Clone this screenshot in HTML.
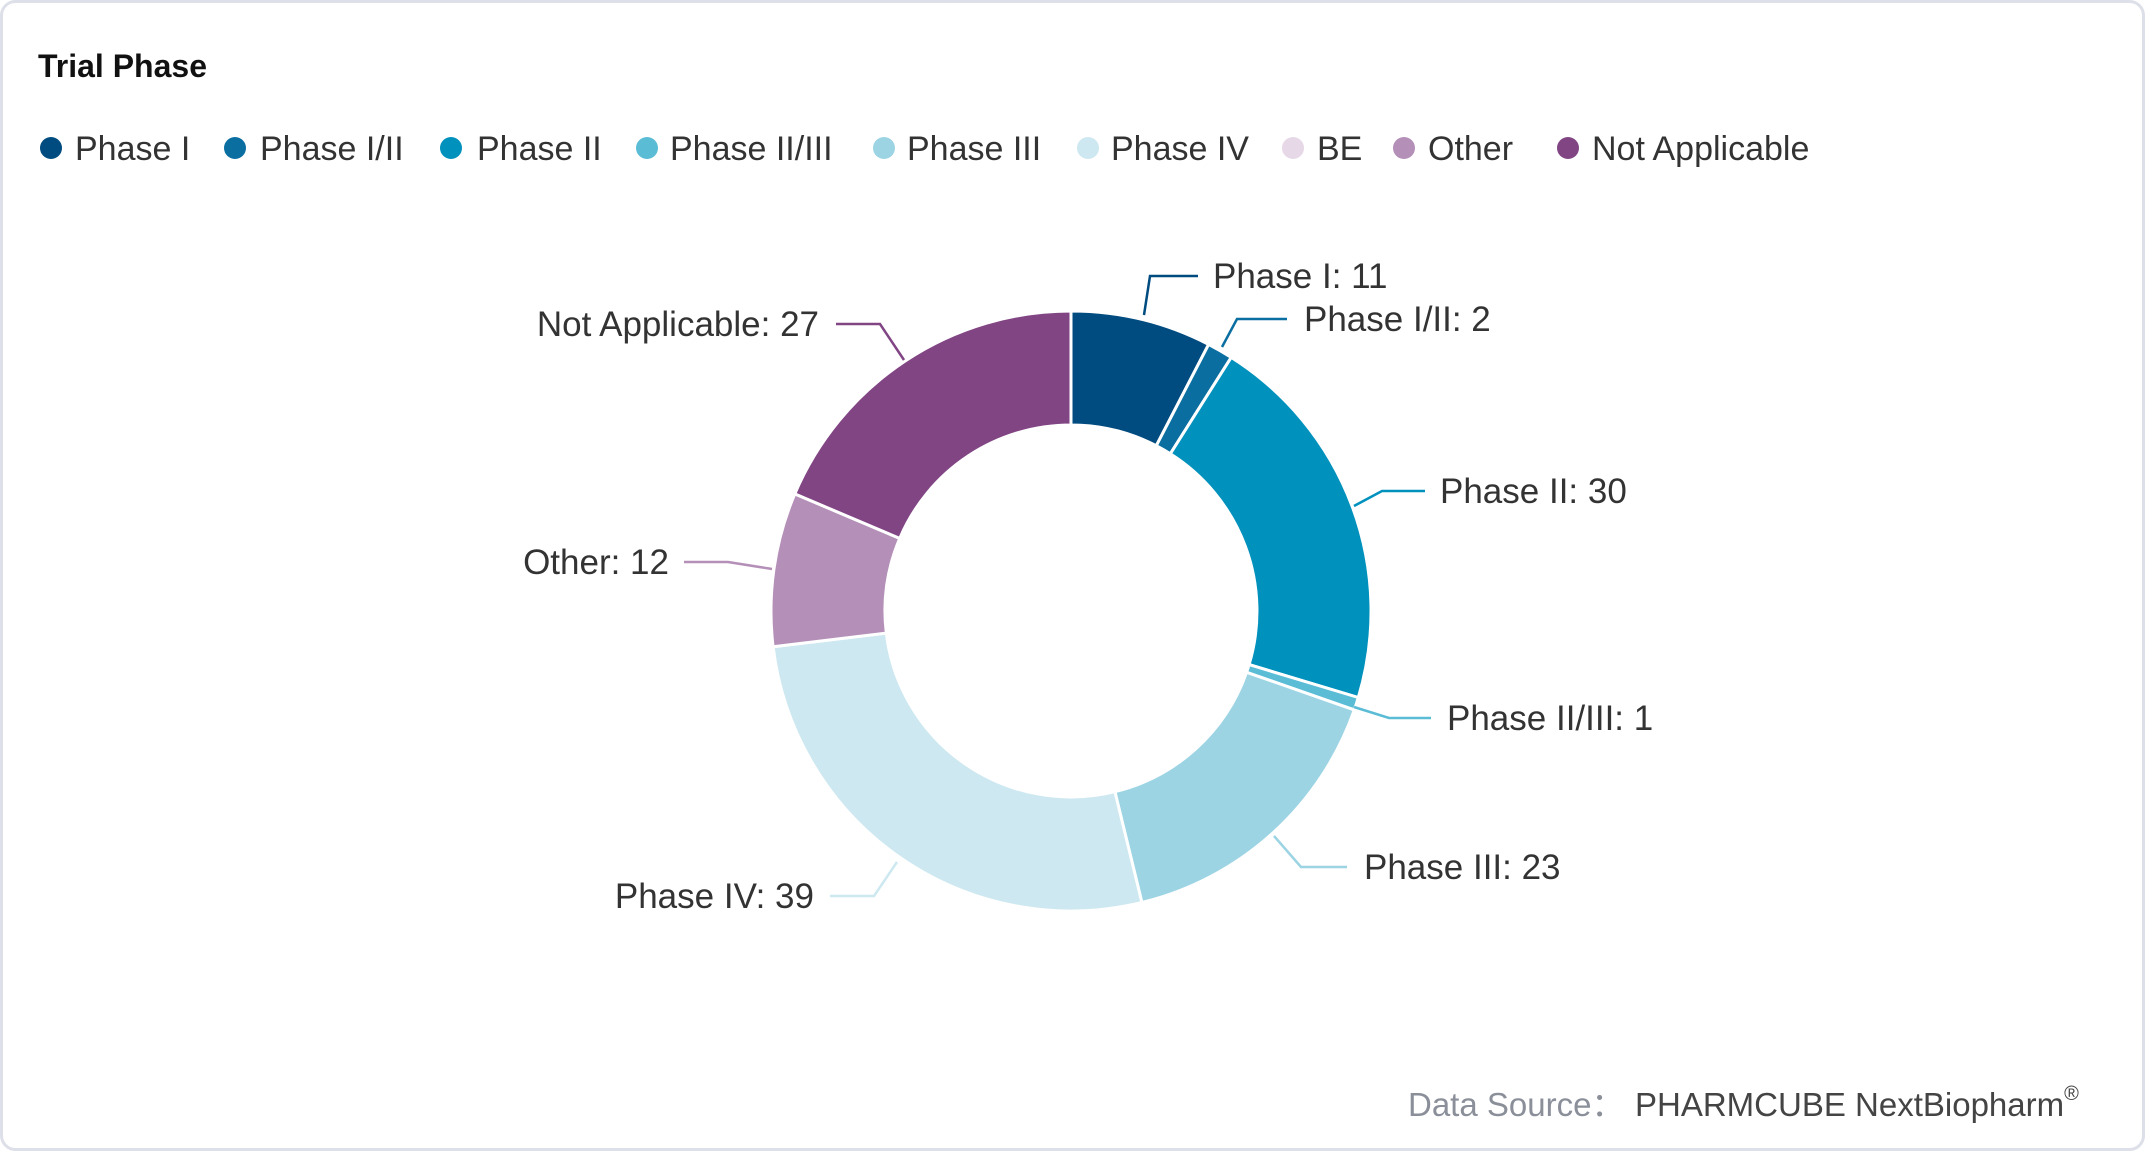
<!DOCTYPE html>
<html><head><meta charset="utf-8"><style>
html,body{margin:0;padding:0;background:#fff;}
body{width:2145px;height:1152px;overflow:hidden;font-family:"Liberation Sans",sans-serif;}
</style></head><body>
<svg width="2145" height="1152" xmlns="http://www.w3.org/2000/svg" font-family="Liberation Sans, sans-serif">
<rect x="1.5" y="1.5" width="2142" height="1148" rx="14" fill="#fff" stroke="#dde0e8" stroke-width="3"/>
<text x="38" y="77" font-size="32" font-weight="bold" fill="#111">Trial Phase</text>
<g font-size="34" fill="#333">
<circle cx="51" cy="148" r="11" fill="#004b7f"/><text x="75" y="160">Phase I</text>
<circle cx="235" cy="148" r="11" fill="#0a6fa0"/><text x="260" y="160">Phase I/II</text>
<circle cx="451" cy="148" r="11" fill="#0091bd"/><text x="477" y="160">Phase II</text>
<circle cx="647" cy="148" r="11" fill="#5bbcd6"/><text x="670" y="160">Phase II/III</text>
<circle cx="884" cy="148" r="11" fill="#9cd4e4"/><text x="907" y="160">Phase III</text>
<circle cx="1088" cy="148" r="11" fill="#cde8f0"/><text x="1111" y="160">Phase IV</text>
<circle cx="1293" cy="148" r="11" fill="#e7d8e8"/><text x="1317" y="160">BE</text>
<circle cx="1404" cy="148" r="11" fill="#b48fb8"/><text x="1428" y="160">Other</text>
<circle cx="1568" cy="148" r="11" fill="#814584"/><text x="1592" y="160">Not Applicable</text>
</g>
<g stroke="#fff" stroke-width="3" stroke-linejoin="round">
<path fill="#004b7f" d="M1071,311 A300,300 0 0 1 1208.6,344.4 L1156.3,445.7 A186,186 0 0 0 1071,425 Z"/>
<path fill="#0a6fa0" d="M1208.6,344.4 A300,300 0 0 1 1231.2,357.4 L1170.3,453.8 A186,186 0 0 0 1156.3,445.7 Z"/>
<path fill="#0091bd" d="M1231.2,357.4 A300,300 0 0 1 1358.3,697.5 L1249.1,664.6 A186,186 0 0 0 1170.3,453.8 Z"/>
<path fill="#5bbcd6" d="M1358.3,697.5 A300,300 0 0 1 1354.3,709.9 L1246.6,672.3 A186,186 0 0 0 1249.1,664.6 Z"/>
<path fill="#9cd4e4" d="M1354.3,709.9 A300,300 0 0 1 1141.9,902.5 L1114.9,791.7 A186,186 0 0 0 1246.6,672.3 Z"/>
<path fill="#cde8f0" d="M1141.9,902.5 A300,300 0 0 1 773.1,646.7 L886.3,633.1 A186,186 0 0 0 1114.9,791.7 Z"/>
<path fill="#b48fb8" d="M773.1,646.7 A300,300 0 0 1 794.8,493.9 L899.7,538.4 A186,186 0 0 0 886.3,633.1 Z"/>
<path fill="#814584" d="M794.8,493.9 A300,300 0 0 1 1071,311 L1071,425 A186,186 0 0 0 899.7,538.4 Z"/>
</g>
<g fill="none" stroke-width="2.5">
<polyline points="1144,315 1150,276 1198,276" stroke="#004b7f"/>
<polyline points="1222,347 1237,319 1287,319" stroke="#0a6fa0"/>
<polyline points="1354,506 1382,491 1425,491" stroke="#0091bd"/>
<polyline points="1354,707 1389,718 1431,718" stroke="#5bbcd6"/>
<polyline points="1274,836 1301,867 1347,867" stroke="#9cd4e4"/>
<polyline points="897,862 874,896 830,896" stroke="#cde8f0"/>
<polyline points="772,569 728,562 684,562" stroke="#b48fb8"/>
<polyline points="904,360 880,324 836,324" stroke="#814584"/>
</g>
<g font-size="35" fill="#333">
<text x="1213" y="288">Phase I: 11</text>
<text x="1304" y="331">Phase I/II: 2</text>
<text x="1440" y="503">Phase II: 30</text>
<text x="1447" y="730">Phase II/III: 1</text>
<text x="1364" y="879">Phase III: 23</text>
<text x="814" y="908" text-anchor="end">Phase IV: 39</text>
<text x="669" y="574" text-anchor="end">Other: 12</text>
<text x="819" y="336" text-anchor="end">Not Applicable: 27</text>
</g>
<text x="1408" y="1116" font-size="33" fill="#8a8f99">Data Source：</text>
<text x="1635" y="1116" font-size="33" fill="#444">PHARMCUBE NextBiopharm<tspan font-size="20" dy="-16">®</tspan></text>
</svg>
</body></html>
